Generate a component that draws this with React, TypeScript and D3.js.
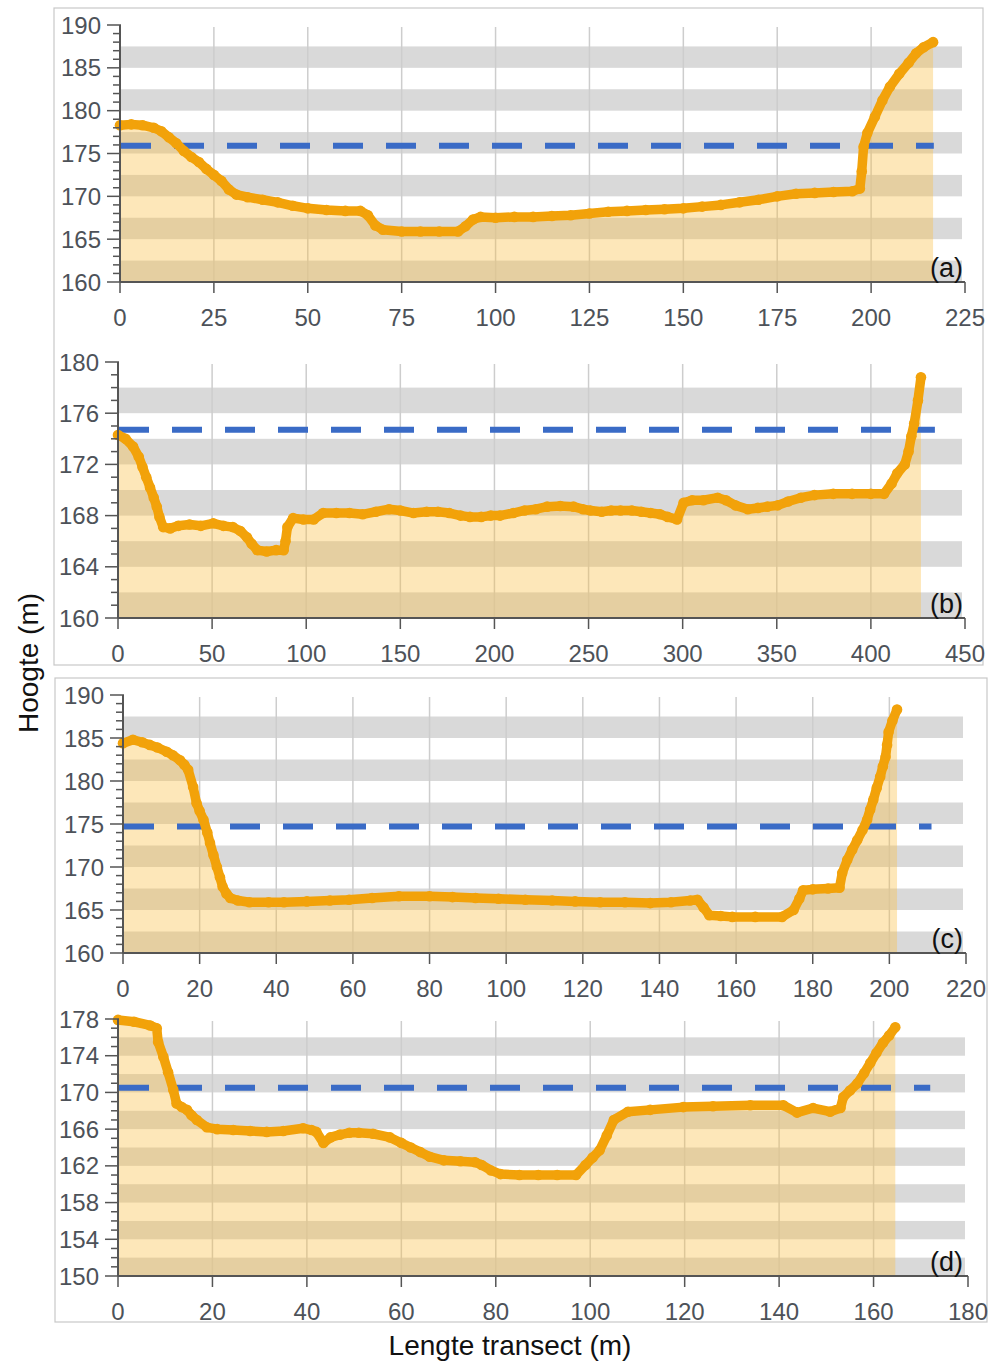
import React from 'react';
import * as d3 from 'd3';

type Pt = [number, number];

// ---- data (x = lengte transect in m, y = hoogte in m) ----
const profileA: Pt[] = [
  [0, 178.3], [3, 178.4], [6, 178.3], [9, 178.0], [11, 177.6], [13, 176.9], [15, 176.2], [17, 175.3],
  [19, 174.6], [21, 174.0], [23, 173.2], [25, 172.5], [27, 171.8], [29, 170.8], [31, 170.2], [34, 169.9],
  [38, 169.6], [42, 169.3], [46, 168.9], [50, 168.6], [55, 168.4], [60, 168.3], [64, 168.3], [66, 167.8],
  [68, 166.6], [70, 166.1], [75, 165.9], [80, 165.9], [85, 165.9], [90, 165.9], [92, 166.5], [94, 167.3],
  [96, 167.6], [100, 167.5], [105, 167.6], [110, 167.6], [115, 167.7], [120, 167.8], [125, 168.0],
  [130, 168.2], [135, 168.3], [140, 168.4], [145, 168.5], [150, 168.6], [155, 168.8], [160, 169.0],
  [165, 169.3], [170, 169.6], [175, 170.0], [180, 170.3], [185, 170.4], [190, 170.5], [195, 170.6],
  [197, 170.9], [197.5, 172.9], [198, 175.8], [199, 177.4], [201, 179.3], [203, 181.2], [205, 182.8],
  [207.5, 184.3], [210, 185.6], [212, 186.7], [214, 187.4], [216.5, 188.0],
];
const profileB: Pt[] = [
  [0, 174.3], [4, 174.0], [8, 173.4], [11, 172.6], [13, 171.8], [15, 171.0], [17, 170.2], [19, 169.4],
  [20.6, 168.7], [22, 167.9], [24, 167.1], [27.7, 167.0], [32, 167.2], [38, 167.3], [44, 167.2],
  [50.6, 167.4], [56, 167.2], [61, 167.1], [65, 166.8], [68.5, 166.3], [71, 165.8], [74, 165.3],
  [79, 165.2], [84, 165.3], [88, 165.3], [89, 166.0], [90, 167.1], [93, 167.8], [98.5, 167.7],
  [104, 167.7], [109, 168.2], [116, 168.2], [123, 168.2], [130, 168.1], [137, 168.3], [144, 168.5],
  [150, 168.4], [157, 168.2], [164, 168.3], [170, 168.3], [176, 168.2], [182, 168.0], [187, 167.9],
  [193, 167.9], [198, 168.0], [203, 168.0], [210, 168.2], [216, 168.4], [222, 168.5], [228, 168.7],
  [235, 168.75], [242, 168.7], [247, 168.5], [251, 168.4], [257, 168.3], [262, 168.4], [267, 168.4],
  [273, 168.4], [278, 168.3], [283, 168.2], [288, 168.1], [292, 167.9], [297, 167.7], [300.5, 169.0],
  [305, 169.2], [311, 169.2], [318.6, 169.4], [323, 169.2], [328, 168.8], [334.6, 168.5], [340, 168.6],
  [345, 168.7], [350.5, 168.8], [356, 169.1], [362.8, 169.4], [370, 169.6], [380, 169.7], [390, 169.7],
  [400, 169.7], [407, 169.7], [411, 170.5], [414, 171.3], [418, 172.0], [420, 173.0], [421.5, 174.2],
  [423, 175.2], [425, 177.0], [426.6, 178.8],
];
const profileC: Pt[] = [
  [0, 184.4], [2.6, 184.8], [5, 184.5], [7, 184.2], [9, 183.9], [11.4, 183.4], [13, 183.0], [14.9, 182.4],
  [16, 181.9], [17, 181.3], [18.3, 179.3], [19.2, 177.4], [20, 176.5], [21, 175.5], [22, 174.0],
  [22.7, 172.8], [23.6, 171.4], [24.5, 170.0], [25.3, 168.8], [26, 167.7], [27, 166.9], [28, 166.4],
  [30, 166.1], [33, 165.9], [38, 165.9], [42, 165.9], [48, 166.0], [54, 166.1], [59, 166.2], [65, 166.4],
  [72, 166.6], [80, 166.6], [86, 166.5], [92, 166.4], [98, 166.3], [105, 166.2], [112, 166.1], [118, 166.0],
  [124.5, 165.9], [131, 165.9], [137.6, 165.8], [143, 165.9], [148, 166.1], [149.9, 166.2], [151.5, 165.3],
  [153, 164.4], [156, 164.3], [159, 164.2], [165, 164.2], [172, 164.2], [175, 165.0], [176.5, 166.3],
  [177.5, 167.3], [180, 167.4], [184, 167.5], [187, 167.6], [187.7, 169.3], [189, 170.8], [190.3, 172.0],
  [191.6, 173.1], [193, 174.3], [194.2, 175.5], [195, 176.7], [195.8, 177.8], [196.7, 179.2],
  [197.6, 180.5], [198.3, 181.7], [199, 182.8], [199.4, 184.2], [199.8, 185.7], [200.8, 187.0], [202, 188.3],
];
const profileD: Pt[] = [
  [0, 177.9], [3.4, 177.7], [6.8, 177.3], [8.2, 177.0], [8.5, 175.5], [9.6, 173.9], [10.6, 172.2],
  [11.7, 170.3], [12.4, 168.8], [13.5, 168.4], [14.6, 168.1], [15.6, 167.5], [16.7, 167.0], [18.8, 166.2],
  [21, 166.0], [24.4, 165.9], [28, 165.8], [31.5, 165.7], [35, 165.8], [39.2, 166.1], [41, 165.9],
  [42, 165.7], [43.5, 164.5], [45, 165.1], [47, 165.4], [49, 165.6], [51, 165.6], [54, 165.5],
  [57.6, 165.1], [60, 164.5], [62, 164.0], [64, 163.5], [66, 163.0], [69, 162.6], [72.5, 162.5],
  [75.6, 162.4], [77, 162.1], [79, 161.5], [81, 161.1], [85, 161.0], [89, 161.0], [93, 161.0], [97, 161.0],
  [99, 162.1], [100.5, 162.9], [102, 163.7], [103.5, 165.3], [105, 167.0], [108, 167.9], [112.7, 168.1],
  [119.7, 168.4], [126, 168.5], [133.9, 168.6], [140.9, 168.6], [143.8, 167.8], [147.2, 168.3],
  [150.8, 167.9], [153, 168.3], [153.6, 169.5], [155, 170.2], [156.6, 171.0], [158, 172.1], [159.3, 173.2],
  [160.6, 174.3], [162, 175.4], [163.3, 176.2], [164.6, 177.1],
];

// water levels (blue dashed) and their extent along the transect
const waterLevels = [175.9, 174.7, 174.7, 170.5];
const waterEnds = [216.7, 434, 211, 172];

// tick labels
const xTicksA = [0, 25, 50, 75, 100, 125, 150, 175, 200, 225];
const xTicksB = [0, 50, 100, 150, 200, 250, 300, 350, 400, 450];
const xTicksC = [0, 20, 40, 60, 80, 100, 120, 140, 160, 180, 200, 220];
const xTicksD = [0, 20, 40, 60, 80, 100, 120, 140, 160, 180];
const yTicksA = [160, 165, 170, 175, 180, 185, 190];
const yTicksB = [160, 164, 168, 172, 176, 180];
const yTicksC = [160, 165, 170, 175, 180, 185, 190];
const yTicksD = [150, 154, 158, 162, 166, 170, 174, 178];
const panelLabels = ['(a)', '(b)', '(c)', '(d)'];

// ---- layout ----
const layout = [
  { left: 120, right: 965, top: 25, bottom: 282 },
  { left: 118, right: 965, top: 362, bottom: 618 },
  { left: 123, right: 966, top: 695, bottom: 953 },
  { left: 118, right: 968, top: 1019, bottom: 1276 },
];

const FONT = '"Liberation Sans", Arial, sans-serif';
const TICK_COLOR = '#4d5259';
const AXIS_COLOR = '#555';
const BAND = '#d9d9d9';
const GRID = '#cdcdcd';
const ORANGE = '#f2a20a';
const BLUE = '#3a6bc6';

interface PanelProps {
  data: Pt[];
  xTicks: number[];
  yTicks: number[];
  level: number;
  levelEnd: number;
  label: string;
  box: { left: number; right: number; top: number; bottom: number };
}

function Panel({ data, xTicks, yTicks, level, levelEnd, label, box }: PanelProps) {
  const xs = d3.scaleLinear().domain([xTicks[0], xTicks[xTicks.length - 1]]).range([box.left, box.right]);
  const ys = d3.scaleLinear().domain([yTicks[0], yTicks[yTicks.length - 1]]).range([box.bottom, box.top]);
  const step = yTicks[1] - yTicks[0];
  const minor = d3.range(yTicks[0], yTicks[yTicks.length - 1] + 0.001, 1).filter((v) => !yTicks.includes(v));

  const area = d3
    .area<Pt>()
    .x((d) => xs(d[0]))
    .y0(ys(yTicks[0]))
    .y1((d) => ys(d[1]));
  const line = d3
    .line<Pt>()
    .x((d) => xs(d[0]))
    .y((d) => ys(d[1]));

  const bandRight = box.right - 3;

  return (
    <g>
      {yTicks.slice(0, -1).map((t) => (
        <rect
          key={'b' + t}
          x={box.left}
          width={bandRight - box.left}
          y={ys(t + step / 2)}
          height={ys(t) - ys(t + step / 2)}
          fill={BAND}
        />
      ))}
      {xTicks.slice(1, -1).map((t) => (
        <line key={'g' + t} x1={xs(t)} x2={xs(t)} y1={box.top + 2} y2={box.bottom} stroke={GRID} strokeWidth={1.5} />
      ))}
      <path d={area(data) || ''} fill="rgb(250,190,66)" fillOpacity={0.37} />
      <line
        x1={xs(0) + 1}
        x2={xs(levelEnd)}
        y1={ys(level)}
        y2={ys(level)}
        stroke={BLUE}
        strokeWidth={6}
        strokeDasharray="30 23"
      />
      <path d={line(data) || ''} fill="none" stroke={ORANGE} strokeWidth={9.5} strokeLinejoin="round" strokeLinecap="round" />
      {data.map((d, i) => (
        <circle key={'p' + i} cx={xs(d[0])} cy={ys(d[1])} r={5.3} fill={ORANGE} />
      ))}
      <line x1={box.left} x2={box.left} y1={box.top} y2={box.bottom} stroke={AXIS_COLOR} strokeWidth={2} />
      {minor.map((v) => (
        <line key={'m' + v} x1={box.left - 7} x2={box.left + 1} y1={ys(v)} y2={ys(v)} stroke={AXIS_COLOR} strokeWidth={1.5} />
      ))}
      {yTicks.map((t) => (
        <g key={'y' + t}>
          <line x1={box.left - 13} x2={box.left + 1} y1={ys(t)} y2={ys(t)} stroke={AXIS_COLOR} strokeWidth={1.5} />
          <text
            x={box.left - 19}
            y={ys(t)}
            dy="0.36em"
            textAnchor="end"
            fontFamily={FONT}
            fontSize={24}
            fill={TICK_COLOR}
          >
            {t}
          </text>
        </g>
      ))}
      <line x1={box.left} x2={box.right} y1={box.bottom} y2={box.bottom} stroke={AXIS_COLOR} strokeWidth={2} />
      {xTicks.map((t) => (
        <g key={'x' + t}>
          <line x1={xs(t)} x2={xs(t)} y1={box.bottom} y2={box.bottom + 11} stroke={AXIS_COLOR} strokeWidth={1.5} />
          <text x={xs(t)} y={box.bottom + 44} textAnchor="middle" fontFamily={FONT} fontSize={24} fill={TICK_COLOR}>
            {t}
          </text>
        </g>
      ))}
      <text x={963} y={box.bottom - 5} textAnchor="end" fontFamily={FONT} fontSize={27} fill="#111">
        {label}
      </text>
    </g>
  );
}

export default function App() {
  const profiles = [profileA, profileB, profileC, profileD];
  const xTickSets = [xTicksA, xTicksB, xTicksC, xTicksD];
  const yTickSets = [yTicksA, yTicksB, yTicksC, yTicksD];
  return (
    <svg
      width={992}
      height={1364}
      viewBox="0 0 992 1364"
      style={{ position: 'absolute', left: 0, top: 0, background: '#fff' }}
    >
      <rect x={0} y={0} width={992} height={1364} fill="#fff" />
      <rect x={54} y={8} width={929} height={657} fill="none" stroke="#c8c8c8" strokeWidth={1.2} />
      <rect x={55} y={678} width={932} height={644} fill="none" stroke="#c8c8c8" strokeWidth={1.2} />
      {profiles.map((p, i) => (
        <Panel
          key={i}
          data={p}
          xTicks={xTickSets[i]}
          yTicks={yTickSets[i]}
          level={waterLevels[i]}
          levelEnd={waterEnds[i]}
          label={panelLabels[i]}
          box={layout[i]}
        />
      ))}
      <text
        transform="translate(28,663) rotate(-90)"
        textAnchor="middle"
        dy="0.35em"
        fontFamily={FONT}
        fontSize={28}
        fill="#111"
      >
        Hoogte (m)
      </text>
      <text x={510} y={1355} textAnchor="middle" fontFamily={FONT} fontSize={28} fill="#111">
        Lengte transect (m)
      </text>
    </svg>
  );
}
